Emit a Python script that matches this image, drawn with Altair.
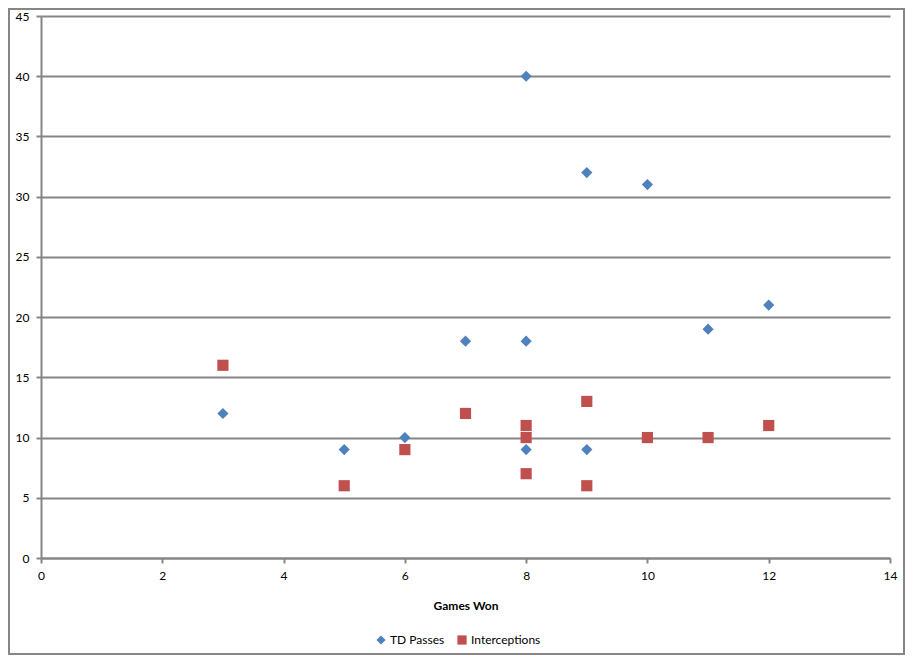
import altair as alt
import pandas as pd

# Data
games_won_td = [3, 5, 6, 7, 8, 8, 8, 9, 9, 10, 11, 12]
td_passes = [12, 9, 10, 18, 40, 18, 9, 32, 9, 31, 19, 21]
games_won_int = [3, 5, 6, 7, 8, 8, 8, 9, 9, 10, 11, 12]
interceptions = [16, 6, 9, 12, 11, 10, 7, 13, 6, 10, 10, 11]
series_names = ["TD Passes", "Interceptions"]
series_colors = ["#4F81BD", "#C0504D"]
series_shapes = ["diamond", "square"]
x_ticks = [0, 2, 4, 6, 8, 10, 12, 14]
y_ticks = [0, 5, 10, 15, 20, 25, 30, 35, 40, 45]

rows = []
for gx, v in zip(games_won_td, td_passes):
    rows.append({"Games Won": gx, "Value": v, "Series": series_names[0]})
for gx, v in zip(games_won_int, interceptions):
    rows.append({"Games Won": gx, "Value": v, "Series": series_names[1]})
df = pd.DataFrame(rows)

W, H = 849, 542
PAD = {"left": 33, "top": 8, "right": 15, "bottom": 97}
GRAY = "#868686"
FONT = "Lato"

points = alt.Chart(df).mark_point(filled=True, size=125, opacity=1).encode(
    x=alt.X("Games Won:Q",
            scale=alt.Scale(domain=[0, 14], nice=False, zero=True),
            axis=alt.Axis(values=x_ticks, grid=False, title="Games Won",
                          titleFontWeight="bold", titleFontSize=12,
                          titlePadding=19, labelPadding=7, tickSize=5,
                          labelFlush=False)),
    y=alt.Y("Value:Q",
            scale=alt.Scale(domain=[0, 45], nice=False),
            axis=alt.Axis(values=y_ticks, grid=True, title=None,
                          labelPadding=7, tickSize=5, labelFlush=False)),
    color=alt.Color("Series:N",
                    scale=alt.Scale(domain=series_names, range=series_colors),
                    legend=alt.Legend(title=None, orient="none", direction="horizontal",
                                      legendX=334, legendY=618, symbolSize=85,
                                      labelFontSize=12, labelFont=FONT,
                                      labelColor="#000000", columnPadding=11,
                                      labelOffset=3, symbolStrokeWidth=0)),
    shape=alt.Shape("Series:N",
                    scale=alt.Scale(domain=series_names, range=series_shapes),
                    legend=None),
    order=alt.Order("order:Q"),
).transform_calculate(order="datum.Series == 'TD Passes' ? 0 : 1")

border = alt.Chart(pd.DataFrame({"a": [0]})).mark_rect(
    fill="white", fillOpacity=0, stroke=GRAY, strokeWidth=2
).encode(
    x=alt.value(-PAD["left"] + 1), x2=alt.value(W + PAD["right"] - 1),
    y=alt.value(-PAD["top"] + 1), y2=alt.value(H + PAD["bottom"] - 1),
)

chart = alt.layer(points, border).properties(
    width=W, height=H,
    autosize=alt.AutoSizeParams(type="none"),
    padding=PAD,
).configure_view(stroke=None).configure_axis(
    domainColor=GRAY, domainWidth=2, tickColor=GRAY, tickWidth=2,
    gridColor=GRAY, gridWidth=2, labelFont=FONT, labelFontSize=12,
    labelColor="#000000", titleFont=FONT, titleColor="#000000",
)

chart.save("out.html", embed_options={"renderer": "svg", "actions": False})
